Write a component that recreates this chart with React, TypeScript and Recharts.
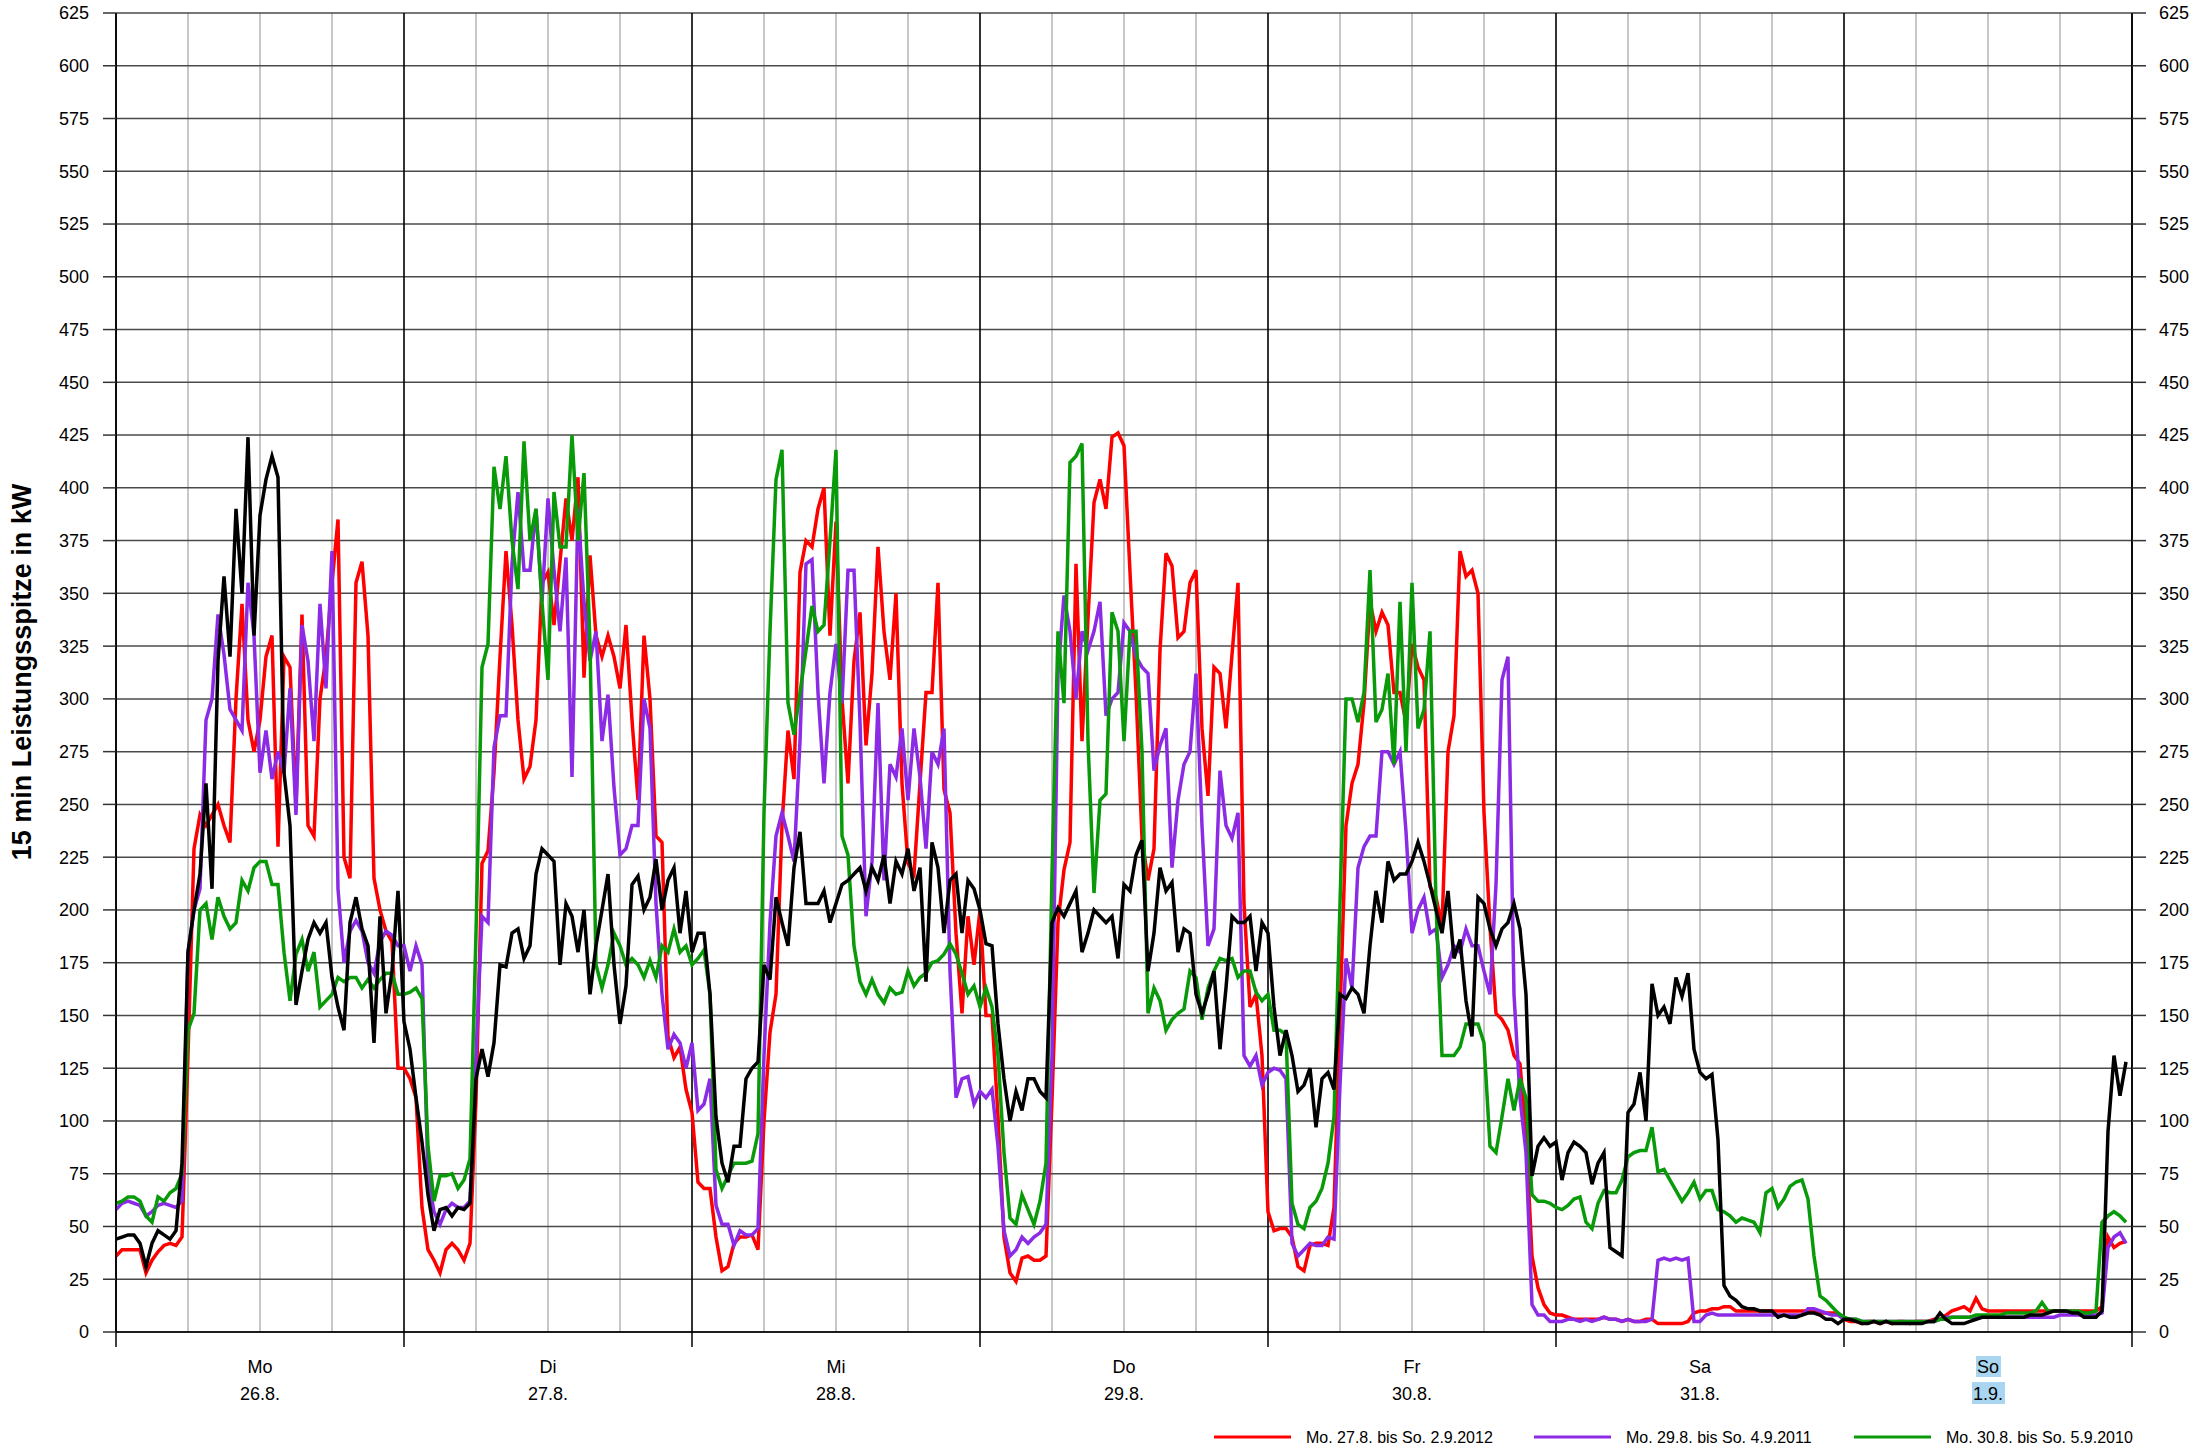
import React from "react";
import { LineChart, Line, XAxis, YAxis, CartesianGrid } from "recharts";

const W = 2206;
const H = 1448;
const FONT = '"Liberation Sans", Arial, Helvetica, sans-serif';

const dayNames = ["Mo", "Di", "Mi", "Do", "Fr", "Sa", "So"];
const dayDates = ["26.8.", "27.8.", "28.8.", "29.8.", "30.8.", "31.8.", "1.9."];
const highlightDay = 6;
const yTicks = [0, 25, 50, 75, 100, 125, 150, 175, 200, 225, 250, 275, 300, 325, 350, 375, 400, 425, 450, 475, 500, 525, 550, 575, 600, 625];
const xTicks = [0, 6, 12, 18, 24, 30, 36, 42, 48, 54, 60, 66, 72, 78, 84, 90, 96, 102, 108, 114, 120, 126, 132, 138, 144, 150, 156, 162, 168];
const dayBounds = [0, 24, 48, 72, 96, 120, 144, 168];
const yTitle = "15 min Leistungsspitze in kW";
const legendLabels = ["Mo. 27.8. bis So. 2.9.2012", "Mo. 29.8. bis So. 4.9.2011", "Mo. 30.8. bis So. 5.9.2010"];
const STEP_H = 0.5;

// red: Mo. 27.8. bis So. 2.9.2012 (half-hourly values, kW)
const redMo = [36,39,39,39,39,28,34,38,41,42,41,45, 131,229,245,240,245,250,240,232,300,345, 290,275,290,320,330,230,320,315,250,340, 240,235,300,320,355,385,225,215,355,365, 330,215,200,190,185,125];
const redDi = [125,120,111,59,39,34,28,39,42,39,34,42, 110,222,228,265,320,370,335,290,262,268, 290,355,360,335,365,395,375,405,310,368, 330,320,330,320,305,335,290,252,330,300, 235,232,140,130,135,115];
const redMi = [104,71,68,68,45,29,31,42,45,45,46,39, 100,142,160,240,285,262,360,375,372,390, 400,330,384,300,260,318,341,278,312,372, 332,309,350,260,222,217,260,303,303,355, 257,246,189,151,197,174];
const redDo = [200,150,150,102,45,28,24,35,36,34,34,36, 110,194,219,232,364,280,338,393,404,390, 424,426,420,360,303,234,214,229,323,369, 363,329,332,355,361,286,254,315,312,286, 321,355,203,154,160,131];
const redFr = [57,48,49,49,45,31,29,41,42,42,41,59, 150,240,260,269,298,346,332,341,335,303, 303,289,326,315,309,211,206,192,275,292, 370,358,361,350,246,192,151,148,143,131, 127,94,36,21,13,9];
const redSa = [8,8,7,6,6,6,6,6,7,6,6,5, 6,5,5,6,6,4,4,4,4,4, 5,9,10,10,11,11,12,12,10,10, 10,10,10,10,10,10,10,10,10,10, 10,10,9,9,9,9];
const redSo = [6,5,5,4,5,5,4,5,4,5,5,4, 5,5,5,6,6,8,10,11,12,10, 16,11,10,10,10,10,10,10,10,10, 10,10,10,10,10,10,10,10,10,10, 10,12,45,40,42,43];

// purple: Mo. 29.8. bis So. 4.9.2011
const purMo = [58,61,62,61,60,55,57,60,61,60,59,62, 180,200,210,290,300,340,321,295,290,285, 355,330,265,285,262,275,265,305,245,335, 318,280,345,305,370,210,175,190,195,190, 175,170,185,190,188,183];
const purDi = [183,171,183,174,74,57,51,58,61,59,59,62, 131,197,194,277,292,292,364,398,361,361, 390,346,395,361,332,367,263,390,346,318, 332,280,302,258,226,229,240,240,300,286, 203,160,134,141,137,125];
const purMi = [137,105,108,120,60,51,51,41,48,46,46,49, 131,194,235,246,235,223,280,364,366,303, 260,303,326,298,361,361,289,197,223,298, 214,269,263,286,252,286,263,229,275,269, 286,171,111,120,121,108];
const purDo = [114,111,115,88,48,36,39,45,42,45,47,51, 131,312,349,332,300,332,323,332,346,292, 300,303,336,332,320,315,312,266,278,286, 220,252,269,275,312,240,183,191,266,240, 234,246,131,126,131,117];
const purFr = [123,125,124,120,42,36,39,42,41,41,45,44, 117,177,163,220,230,235,235,275,275,269, 275,237,189,200,206,189,191,168,174,183, 180,191,183,183,171,160,212,309,320,160, 111,85,13,8,8,5];
const purSa = [5,5,6,6,5,6,5,6,7,6,6,5, 6,5,5,5,6,34,35,34,35,34, 35,5,5,8,9,8,8,8,8,8, 8,8,8,8,8,8,8,8,8,8, 11,11,10,9,8,8];
const purSo = [6,6,6,5,5,5,5,5,5,5,5,5, 5,5,5,5,6,7,7,7,7,7, 7,7,7,7,7,7,7,7,7,7, 7,7,7,7,8,8,8,8,8,8, 8,9,40,45,47,42];

// green: Mo. 30.8. bis So. 5.9.2010
const grnMo = [61,62,64,64,62,55,52,64,62,66,68,75, 143,151,200,203,186,206,197,191,194,214, 209,220,223,223,212,212,180,157,179,186, 171,180,154,157,160,168,166,168,168,163, 167,163,167,170,170,160];
const grnDi = [160,161,163,158,88,62,74,74,75,68,72,82, 189,315,326,410,390,415,375,352,422,375, 390,346,309,398,372,372,425,375,407,326, 174,163,174,189,183,174,177,174,168,176, 168,183,180,191,180,183];
const grnMi = [174,177,181,160,77,68,74,80,80,80,81,94, 246,332,404,418,298,283,303,323,344,332, 335,375,418,235,226,183,166,160,167,160, 156,163,160,161,171,164,168,170,175,176, 179,184,179,170,160,164];
const grnDo = [154,163,154,131,85,54,51,65,58,51,62,80, 217,332,298,412,415,421,280,208,252,255, 341,332,280,332,332,275,151,163,157,143, 148,151,153,171,168,148,163,171,177,176, 177,168,171,171,161,157];
const grnFr = [160,143,143,141,61,51,49,59,62,68,80,102, 203,300,300,289,303,361,289,295,312,269, 346,275,355,286,295,332,203,131,131,131, 135,146,146,146,137,88,85,102,120,105, 120,111,65,62,62,61];
const grnSa = [59,58,60,63,64,52,49,61,67,66,66,72, 83,85,86,86,97,76,77,72,67,62, 66,71,63,67,67,58,57,55,52,54, 53,52,47,66,68,59,63,69,71,72, 63,36,17,15,12,9];
const grnSo = [7,6,6,5,5,5,5,5,5,5,5,5, 5,5,5,5,6,6,7,7,7,7, 8,8,8,8,8,9,9,9,9,9, 10,14,10,10,10,10,10,10,9,9, 10,52,55,57,55,52];

// black: current week 26.8. - 1.9.
const blkMo = [44,45,46,46,42,31,42,48,46,44,48,80, 180,200,217,260,210,318,358,320,390,350, 424,330,387,404,415,405,265,240,155,171, 186,194,189,194,168,154,143,194,206,191, 183,137,197,151,171,209];
const blkDi = [147,134,111,90,65,48,58,59,55,59,58,61, 120,134,121,137,174,173,189,191,177,183, 217,229,226,223,174,203,197,180,200,160, 183,200,217,174,146,164,212,216,200,206, 224,200,214,220,189,209];
const blkMi = [180,189,189,160,102,80,71,88,88,120,125,128, 174,167,206,194,183,220,237,203,203,203, 209,194,203,212,214,217,220,209,220,214, 226,203,223,217,229,209,220,166,232,220, 189,214,217,189,214,210];
const blkDo = [200,184,183,146,120,100,114,105,120,120,114,111, 194,201,197,203,209,180,189,200,197,194, 197,177,212,209,226,233,171,189,220,209, 213,180,191,189,160,151,160,171,134,163, 197,194,194,197,171,194];
const blkFr = [189,154,131,143,131,114,117,125,97,120,123,115, 160,158,163,160,151,183,209,194,223,214, 217,217,223,232,223,212,200,189,209,177, 186,157,140,206,203,191,183,191,194,203, 191,160,74,88,92,88];
const blkSa = [90,72,85,90,88,85,70,80,85,40,38,36, 104,108,123,100,165,150,154,146,168,159, 170,134,123,120,122,91,22,17,15,12, 11,11,10,10,10,7,8,7,7,8, 9,9,8,6,6,4];
const blkSo = [6,6,5,4,4,5,4,5,4,4,4,4, 4,4,5,5,9,6,4,4,4,5, 6,7,7,7,7,7,7,7,7,8, 8,8,9,10,10,10,9,9,7,7, 7,10,95,131,112,128];

const red = [...redMo, ...redDi, ...redMi, ...redDo, ...redFr, ...redSa, ...redSo];
const purple = [...purMo, ...purDi, ...purMi, ...purDo, ...purFr, ...purSa, ...purSo];
const green = [...grnMo, ...grnDi, ...grnMi, ...grnDo, ...grnFr, ...grnSa, ...grnSo];
const black = [...blkMo, ...blkDi, ...blkMi, ...blkDo, ...blkFr, ...blkSa, ...blkSo];

const data = red.map((v, i) => ({
  t: i * STEP_H,
  red: v,
  purple: purple[i],
  green: green[i],
  black: black[i],
}));

const COLORS = { red: "#ff0000", purple: "#8b2be6", green: "#089a08", black: "#000000" };
const legendColors = [COLORS.red, COLORS.purple, COLORS.green];
const LINE_W = 3.5;

function DayTick(props: any) {
  const { x, y, payload } = props;
  const h = payload.value;
  if (h % 24 === 0) {
    return <line x1={x} x2={x} y1={y} y2={y + 15} stroke="#000" strokeWidth={1.5} />;
  }
  if (h % 24 !== 12) return <g />;
  const d = Math.floor(h / 24);
  const hl = d === highlightDay;
  return (
    <g>
      {hl && <rect x={x - 12} y={y + 24} width={25} height={21} fill="#a9d5f0" />}
      {hl && <rect x={x - 16} y={y + 50} width={33} height={22} fill="#a9d5f0" />}
      <text x={x} y={y + 41} textAnchor="middle" fontSize={18} fontFamily={FONT} fill="#000">
        {dayNames[d]}
      </text>
      <text x={x} y={y + 68} textAnchor="middle" fontSize={18} fontFamily={FONT} fill="#000">
        {dayDates[d]}
      </text>
    </g>
  );
}

const dayLineGen = (props: any) => {
  const off = props && props.offset;
  const left = off ? off.left : 116;
  const width = off ? off.width : 2016;
  return dayBounds.map((h) => left + (width * h) / 168);
};

export default function App() {
  return (
    <div style={{ position: "absolute", left: 0, top: 0, width: W, height: H, background: "#fff" }}>
      <LineChart width={W} height={H} data={data} margin={{ top: 13, right: 0, bottom: 0, left: 0 }}>
        <CartesianGrid horizontal={false} vertical={true} stroke="#b4b4b4" strokeWidth={1.5} />
        <CartesianGrid horizontal={true} vertical={false} stroke="#4a4a4a" strokeWidth={1.5} />
        <CartesianGrid horizontal={false} vertical={true} verticalCoordinatesGenerator={dayLineGen} stroke="#000" strokeWidth={1.5} />
        <XAxis
          dataKey="t"
          type="number"
          domain={[0, 168]}
          ticks={xTicks}
          interval={0}
          height={116}
          tickSize={0}
          tickMargin={0}
          tickLine={false}
          axisLine={{ stroke: "#000", strokeWidth: 1.5 }}
          tick={<DayTick />}
          allowDataOverflow
        />
        <YAxis
          domain={[0, 625]}
          ticks={yTicks}
          interval={0}
          width={116}
          tickSize={13}
          tickMargin={14}
          axisLine={{ stroke: "#000", strokeWidth: 1.5 }}
          tickLine={{ stroke: "#333", strokeWidth: 1.5 }}
          tick={{ fontSize: 18, fill: "#000", fontFamily: FONT }}
          allowDataOverflow
        />
        <YAxis
          yAxisId="right"
          orientation="right"
          domain={[0, 625]}
          ticks={yTicks}
          interval={0}
          width={74}
          tickSize={14}
          tickMargin={13}
          axisLine={{ stroke: "#000", strokeWidth: 1.5 }}
          tickLine={{ stroke: "#333", strokeWidth: 1.5 }}
          tick={{ fontSize: 18, fill: "#000", fontFamily: FONT }}
          allowDataOverflow
        />
        <Line type="linear" dataKey="red" name={legendLabels[0]} stroke={COLORS.red} strokeWidth={LINE_W} dot={false} isAnimationActive={false} />
        <Line type="linear" dataKey="purple" name={legendLabels[1]} stroke={COLORS.purple} strokeWidth={LINE_W} dot={false} isAnimationActive={false} />
        <Line type="linear" dataKey="green" name={legendLabels[2]} stroke={COLORS.green} strokeWidth={LINE_W} dot={false} isAnimationActive={false} />
        <Line type="linear" dataKey="black" name="Mo. 26.8. bis So. 1.9." stroke={COLORS.black} strokeWidth={LINE_W} dot={false} isAnimationActive={false} />
      </LineChart>
      <svg width={W} height={H} style={{ position: "absolute", left: 0, top: 0, pointerEvents: "none" }}>
        <text
          x={22}
          y={672}
          transform="rotate(-90 22 672)"
          textAnchor="middle"
          dominantBaseline="central"
          fontSize={27}
          fontWeight="bold"
          fontFamily={FONT}
          fill="#000"
        >
          {yTitle}
        </text>
        {legendLabels.map((lab, i) => (
          <g key={lab}>
            <line x1={1214 + i * 320} x2={1291 + i * 320} y1={1437} y2={1437} stroke={legendColors[i]} strokeWidth={3} />
            <text x={1306 + i * 320} y={1443} fontSize={16} fontFamily={FONT} fill="#000">
              {lab}
            </text>
          </g>
        ))}
      </svg>
    </div>
  );
}
